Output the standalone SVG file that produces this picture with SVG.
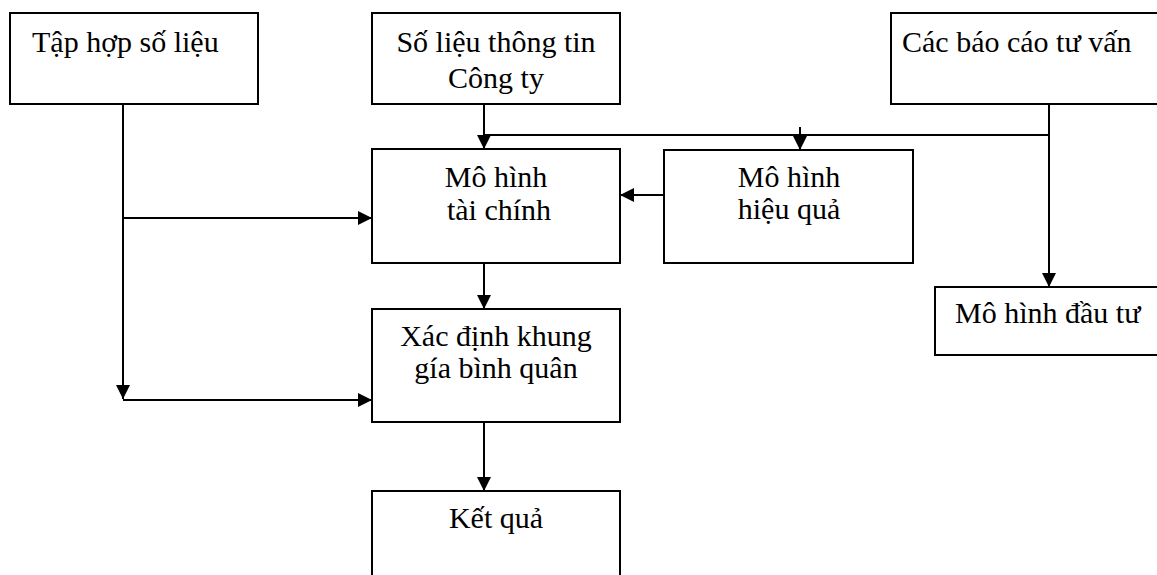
<svg xmlns="http://www.w3.org/2000/svg" width="1157" height="575" viewBox="0 0 1157 575">
  <style>
    .box { fill: #ffffff; stroke: #000000; stroke-width: 2; }
    .lbl { font-family: "Liberation Serif", "Times New Roman", serif; font-size: 30px; fill: #000000; }
    .mid { text-anchor: middle; }
    .wire { fill: none; stroke: #000000; stroke-width: 2; }
  </style>
  <defs>
    <marker id="arrow" markerUnits="userSpaceOnUse" markerWidth="14" markerHeight="14" viewBox="0 0 14 14" refX="14" refY="7" orient="auto">
      <path d="M0,0 L14,7 L0,14 Z" fill="#000000"/>
    </marker>
  </defs>

  <rect width="1157" height="575" fill="#ffffff"/>

  <!-- connectors -->
  <g id="connectors">
    <!-- company data down into the financial model -->
    <path class="wire" d="M484,104 V149" marker-end="url(#arrow)"/>
    <!-- consulting reports bus -->
    <path class="wire" d="M484,135 H1049"/>
    <path class="wire" d="M800,127 V150" marker-end="url(#arrow)"/>
    <path class="wire" d="M1049,104 V287" marker-end="url(#arrow)"/>
    <!-- data collection feeds -->
    <path class="wire" d="M123,104 V399" marker-end="url(#arrow)"/>
    <path class="wire" d="M123,218 H372" marker-end="url(#arrow)"/>
    <path class="wire" d="M123,400 H372" marker-end="url(#arrow)"/>
    <!-- efficiency model into the financial model -->
    <path class="wire" d="M664,195 H620" marker-end="url(#arrow)"/>
    <!-- main chain -->
    <path class="wire" d="M484,263 V309" marker-end="url(#arrow)"/>
    <path class="wire" d="M484,422 V491" marker-end="url(#arrow)"/>
  </g>

  <g id="tap-hop-so-lieu">
    <rect class="box" x="10" y="13" width="248" height="91"/>
    <text class="lbl" x="32" y="52">Tập hợp số liệu</text>
  </g>

  <g id="so-lieu-cong-ty">
    <rect class="box" x="372" y="13" width="248" height="91"/>
    <text class="lbl mid" x="496" y="52">Số liệu thông tin</text>
    <text class="lbl mid" x="496" y="88">Công ty</text>
  </g>

  <g id="bao-cao-tu-van">
    <rect class="box" x="891" y="13" width="280" height="91"/>
    <text class="lbl" x="902" y="52">Các báo cáo tư vấn</text>
  </g>

  <g id="mo-hinh-tai-chinh">
    <rect class="box" x="372" y="149" width="248" height="114"/>
    <text class="lbl mid" x="496" y="187">Mô hình</text>
    <text class="lbl mid" x="499" y="220">tài chính</text>
  </g>

  <g id="mo-hinh-hieu-qua">
    <rect class="box" x="664" y="150" width="249" height="113"/>
    <text class="lbl mid" x="789" y="187">Mô hình</text>
    <text class="lbl mid" x="789" y="219">hiệu quả</text>
  </g>

  <g id="mo-hinh-dau-tu">
    <rect class="box" x="935" y="287" width="240" height="68"/>
    <text class="lbl" x="955" y="323">Mô hình đầu tư</text>
  </g>

  <g id="khung-gia-binh-quan">
    <rect class="box" x="372" y="309" width="248" height="113"/>
    <text class="lbl mid" x="496" y="346">Xác định khung</text>
    <text class="lbl mid" x="496" y="378">gía bình quân</text>
  </g>

  <g id="ket-qua">
    <rect class="box" x="372" y="491" width="248" height="100"/>
    <text class="lbl mid" x="496" y="528">Kết quả</text>
  </g>
</svg>
